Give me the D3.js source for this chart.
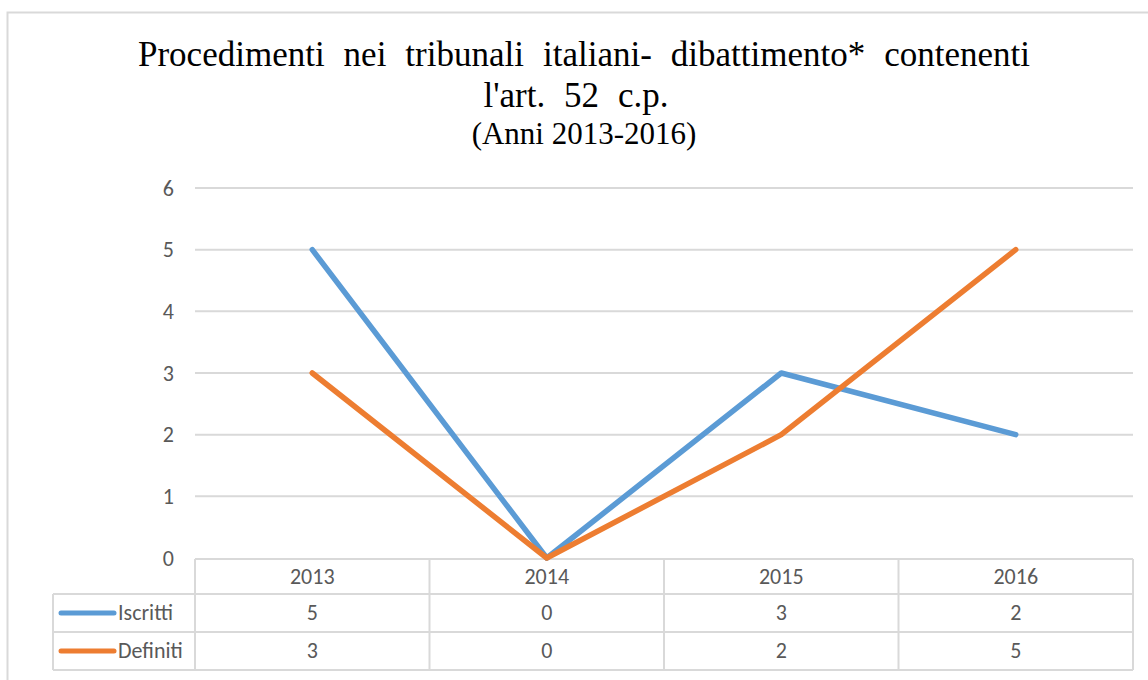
<!DOCTYPE html>
<html><head><meta charset="utf-8">
<script src="https://cdn.jsdelivr.net/npm/d3@7"></script>
<style>html,body{margin:0;padding:0;background:#fff;}svg{display:block;}</style>
</head><body>
<svg id="chart" width="1148" height="680"></svg>
<script>
const titleLines = ["Procedimenti nei tribunali italiani- dibattimento* contenenti", "l'art. 52 c.p."];
const subtitle = "(Anni 2013-2016)";
const categories = ["2013", "2014", "2015", "2016"];
const seriesNames = ["Iscritti", "Definiti"];
const iscritti = [5, 0, 3, 2];
const definiti = [3, 0, 2, 5];
const yTicks = [0, 1, 2, 3, 4, 5, 6];
const colors = ["#5B9BD5", "#ED7D31"];

const series = [
  {name: seriesNames[0], values: iscritti, color: colors[0]},
  {name: seriesNames[1], values: definiti, color: colors[1]}
];

const svg = d3.select("#chart");
const sansFont = "Carlito, Lato, 'Open Sans', sans-serif";
const serifFont = "'Liberation Serif', 'Times New Roman', serif";
const gridColor = "#d9d9d9";
const textGray = "#595959";
const fs = 22;

// outer frame
svg.append("rect").attr("x", 7.5).attr("y", 12.5).attr("width", 1160).attr("height", 700)
  .attr("fill", "#fff").attr("stroke", gridColor).attr("stroke-width", 2);

// title
function fitWords(sel, target) {
  const w = sel.node().getComputedTextLength();
  const n = sel.text().split(" ").length - 1;
  sel.attr("word-spacing", Math.max(0, (target - w) / n));
}
const t1 = svg.append("text").attr("x", 584).attr("y", 66).attr("text-anchor", "middle")
  .attr("font-family", serifFont).attr("font-size", 35).attr("fill", "#000").text(titleLines[0]);
fitWords(t1, 892);
const t2 = svg.append("text").attr("x", 576).attr("y", 107).attr("text-anchor", "middle")
  .attr("font-family", serifFont).attr("font-size", 35).attr("fill", "#000").text(titleLines[1]);
fitWords(t2, 185);
svg.append("text").attr("x", 584).attr("y", 144).attr("text-anchor", "middle")
  .attr("font-family", serifFont).attr("font-size", 31).attr("fill", "#000").text(subtitle);

// scales
const left = 195, right = 1133;
const x = d3.scaleBand().domain(categories).range([left, right]);
const y = d3.scaleLinear().domain([0, 6]).range([558, 188]);

// gridlines
svg.append("g").selectAll("line").data(yTicks.filter(d => d > 0)).join("line")
  .attr("x1", left).attr("x2", right).attr("y1", d => y(d)).attr("y2", d => y(d))
  .attr("stroke", gridColor).attr("stroke-width", 2);

// y axis labels
const yAxis = svg.append("g").attr("transform", "translate(174,0)")
  .call(d3.axisLeft(y).tickValues(yTicks).tickFormat(d3.format("d")).tickSize(0).tickPadding(0));
yAxis.select(".domain").remove();
yAxis.attr("font-size", null).attr("font-family", null);
yAxis.selectAll("text").attr("font-family", sansFont).attr("font-size", fs).attr("fill", textGray)
  .attr("dy", "0.32em");

// table
const rowY = [559, 594, 632, 670];
const tableLeft = 53;
const tg = svg.append("g").attr("stroke", gridColor).attr("stroke-width", 2);
tg.append("line").attr("x1", left).attr("x2", right).attr("y1", rowY[0]).attr("y2", rowY[0]);
[1, 2, 3].forEach(i => tg.append("line").attr("x1", tableLeft).attr("x2", right).attr("y1", rowY[i]).attr("y2", rowY[i]));
tg.append("line").attr("x1", tableLeft).attr("x2", tableLeft).attr("y1", rowY[1]).attr("y2", rowY[3]);
tg.selectAll("line.v").data(categories.map(c => x(c)).concat([right])).join("line").attr("class", "v")
  .attr("x1", d => d).attr("x2", d => d).attr("y1", rowY[0]).attr("y2", rowY[3]);

// header
svg.append("g").selectAll("text").data(categories).join("text")
  .attr("x", d => x(d) + x.bandwidth() / 2).attr("y", 584).attr("text-anchor", "middle")
  .attr("font-family", sansFont).attr("font-size", fs).attr("fill", textGray).text(d => d);

// rows
series.forEach((s, i) => {
  const cy = (rowY[i + 1] + rowY[i + 2]) / 2;
  svg.append("line").attr("x1", 61).attr("x2", 114).attr("y1", cy).attr("y2", cy)
    .attr("stroke", s.color).attr("stroke-width", 5).attr("stroke-linecap", "round");
  svg.append("text").attr("x", 118).attr("y", cy + 7).attr("font-family", sansFont).attr("font-size", fs)
    .attr("fill", textGray).text(s.name);
  svg.append("g").selectAll("text").data(s.values).join("text")
    .attr("x", (d, j) => x(categories[j]) + x.bandwidth() / 2).attr("y", cy + 7).attr("text-anchor", "middle")
    .attr("font-family", sansFont).attr("font-size", fs).attr("fill", textGray).text(d => d);
});

// lines
const line = d3.line().x((d, j) => x(categories[j]) + x.bandwidth() / 2).y(d => y(d));
series.forEach(s => {
  svg.append("path").attr("d", line(s.values)).attr("fill", "none").attr("stroke", s.color)
    .attr("stroke-width", 5.5).attr("stroke-linejoin", "round").attr("stroke-linecap", "round");
});
</script>
</body></html>
